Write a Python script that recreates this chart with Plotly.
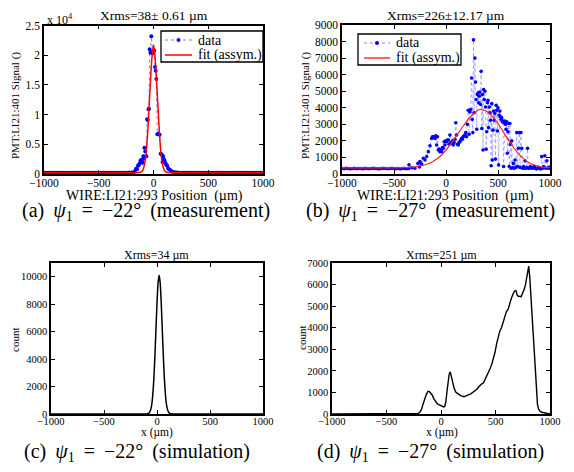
import plotly.graph_objects as go

W, H = 574, 472
FONT = "Liberation Serif"

# ---------------- (a) measurement, psi1 = -22 deg ----------------
a_base_left_x = list(range(-1000, -170, 20))
a_base_left_y = [210, 200, 190, 220, 200, 210, 190, 200, 230, 200, 210, 190, 200, 220, 200, 210,
                 190, 200, 210, 200, 220, 190, 200, 210, 200, 190, 220, 200, 210, 200, 190, 200,
                 210, 220, 200, 190, 210, 200, 230, 250, 260, 300]
a_peak_x = [-170, -160, -150, -142, -135, -126, -118, -110, -105, -99, -93, -88, -83, -75, -65, -58,
            -53, -45, -41, -35, -28, -20, -14, -7, 0, 7, 14, 20, 26, 35, 45, 56, 65, 75, 82, 87,
            95, 102, 110, 117, 125, 132, 140, 150, 163]
a_peak_y = [450, 900, 800, 1400, 1500, 1800, 2300, 2200, 2400, 1900, 3000, 2600, 4400, 3800, 3000,
            9200, 9100, 10900, 11000, 21000, 20400, 23200, 20500, 20300, 20600, 20800, 18000, 17400,
            16000, 6700, 6800, 6600, 3400, 3300, 2000, 3000, 2500, 2200, 1800, 1500, 1400, 1000,
            800, 700, 500]
a_base_right_x = list(range(180, 1001, 20))
a_base_right_y = [350, 280, 250, 230, 210, 200, 220, 190, 200, 210, 200, 190, 210, 200, 220, 200,
                  190, 200, 210, 200, 190, 220, 200, 210, 200, 190, 200, 210, 220, 200, 190, 200,
                  210, 200, 190, 200, 210, 200, 220, 200, 210, 200]
a_data_x = a_base_left_x + a_peak_x + a_base_right_x
a_data_y = a_base_left_y + a_peak_y + a_base_right_y

a_fit_x = [-1000, -500, -250, -200, -150, -120, -100, -90, -80, -70, -60, -50, -40, -30, -20, -10,
           0, 10, 20, 30, 40, 50, 60, 70, 80, 90, 100, 120, 150, 200, 250, 500, 1000]
a_fit_y = [200, 200, 200, 200, 210, 290, 560, 990, 1780, 3100, 5150, 7950, 11400, 14900, 18100,
           20500, 21700, 20600, 18200, 15000, 11600, 8200, 5300, 3200, 1850, 1050, 600, 300, 210,
           200, 200, 200, 200]

# ---------------- (b) measurement, psi1 = -27 deg ----------------
b_base_x = list(range(-1000, -359, 20))
b_base_y = [330, 320, 340, 330, 310, 330, 340, 320, 330, 330, 310, 340, 330, 320, 330, 340, 330,
            320, 310, 330, 340, 330, 320, 330, 340, 330, 320, 330, 310, 330, 340, 320, 330]
b_scan_x = [-356, -330, -300, -270, -255, -250, -234, -218, -202, -186, -170, -154, -138, -130,
            -122, -114, -106, -98, -90, -82, -74, -66, -58, -50, -42, -34, -26, -18, -10, -2, 6,
            14, 22, 30, 38, 46, 54, 62, 70, 78, 86, 94, 102, 110, 118, 126, 134, 142, 150, 158,
            166, 174, 182, 190, 198, 206, 214, 222, 230, 238, 246, 252, 258, 264, 270, 278, 284,
            290, 296, 302, 308, 314, 320, 326, 332, 338, 344, 350, 356, 362, 368, 374, 380, 386,
            392, 398, 404, 410, 416, 422, 428, 434, 440, 446, 452, 458, 464, 470, 476, 482, 488,
            494, 500, 506, 512, 518, 524, 530, 536, 542, 548, 554, 560, 566, 572, 578, 584, 590,
            596, 602, 608, 614, 620, 626, 632, 640, 648, 656, 664, 672, 680, 688, 696, 704, 712,
            720, 728, 736, 744, 752, 760, 768, 776, 784, 792, 800, 810, 820, 830, 840, 850, 860,
            870, 880, 890, 900, 910, 920, 930, 940, 950, 960, 970, 980, 990, 1000]
b_scan_y = [560, 380, 350, 640, 420, 750, 600, 950, 850, 1050, 1350, 1700, 2150, 2250, 2250, 2200,
            2150, 2300, 1750, 2250, 1450, 1500, 1350, 1450, 1350, 1600, 1550, 1950, 1750, 2000,
            1950, 2050, 2050, 1800, 2350, 1900, 1850, 2000, 1750, 1900, 2100, 3100, 2350, 1800,
            1750, 1900, 1950, 2050, 2150, 2100, 2250, 2300, 2350, 2500, 2250, 3000, 3850, 2400,
            3750, 3900, 5800, 3300, 2500, 8100, 3700, 7000, 5550, 4500, 2700, 4800, 4900, 4300,
            4700, 4950, 4200, 6200, 2750, 4800, 1450, 5100, 4500, 5000, 4050, 1500, 2550, 4300,
            4450, 2800, 4050, 3700, 3250, 500, 4250, 850, 2650, 3800, 3250, 3650, 900, 4150, 3850,
            2600, 4000, 550, 3550, 3800, 3450, 3300, 3400, 3150, 3200, 450, 3100, 3200, 3000, 2700,
            3150, 1250, 2550, 3050, 450, 3050, 1800, 350, 2000, 380, 640, 350, 850, 400, 2500, 450,
            1550, 2500, 400, 2500, 1550, 350, 450, 350, 800, 350, 400, 1550, 350, 350, 450, 350,
            400, 350, 450, 350, 300, 350, 400, 350, 300, 1050, 350, 450, 1100, 350, 800, 350, 400,
            350]
b_data_x = b_base_x + b_scan_x
b_data_y = b_base_y + b_scan_y

b_fit_x = [-1000, -800, -600, -400, -350, -300, -250, -200, -150, -100, -50, 0, 50, 100, 150, 200,
           250, 300, 330, 350, 400, 450, 500, 550, 600, 650, 700, 750, 800, 850, 900, 950, 1000]
b_fit_y = [370, 370, 370, 380, 400, 430, 480, 560, 680, 860, 1100, 1450, 1850, 2300, 2750, 3200,
           3550, 3820, 3900, 3880, 3750, 3450, 3050, 2550, 2050, 1600, 1200, 900, 680, 540, 450,
           400, 380]

# ---------------- (c) simulation, psi1 = -22 deg ----------------
c_x = [-1000, -500, -150, -100, -80, -60, -50, -40, -30, -20, -10, 0, 10, 20, 30, 40, 50, 60, 70,
       80, 90, 100, 110, 120, 130, 150, 200, 500, 1000]
c_y = [0, 0, 0, 5, 40, 290, 660, 1370, 2520, 4170, 6130, 8080, 9550, 10100, 9550, 8080, 6130,
       4170, 2520, 1370, 660, 300, 130, 50, 20, 5, 0, 0, 0]

# ---------------- (d) simulation, psi1 = -27 deg ----------------
d_x = [-1000, -600, -300, -230, -210, -195, -180, -165, -150, -135, -120, -110, -100, -90, -80,
       -65, -50, -35, -20, -5, 10, 25, 35, 45, 55, 65, 75, 85, 95, 105, 120, 135, 150, 165, 180,
       195, 210, 225, 240, 255, 270, 285, 300, 315, 330, 345, 360, 375, 390, 405, 420, 435, 450,
       465, 480, 495, 510, 525, 540, 555, 570, 585, 600, 615, 630, 645, 660, 675, 688, 700, 712,
       724, 735, 745, 755, 765, 775, 785, 795, 805, 815, 825, 835, 845, 855, 865, 875, 885, 895,
       910, 925, 940, 960, 980, 1000]
d_y = [0, 0, 0, 0, 20, 80, 200, 450, 700, 900, 1050, 1050, 1000, 950, 870, 700, 560, 480, 430,
       390, 350, 330, 350, 600, 1050, 1500, 1850, 1950, 1750, 1450, 1200, 1020, 950, 880, 850,
       830, 800, 830, 880, 900, 920, 980, 1020, 1080, 1150, 1250, 1350, 1400, 1450, 1600, 1750,
       1950, 2100, 2300, 2550, 2850, 3250, 3550, 3850, 4000, 4250, 4400, 4750, 4850, 5150, 5350,
       5550, 5700, 5720, 5500, 5450, 5460, 5430, 5550, 5650, 5800, 6000, 6300, 6700, 6850, 6300,
       5400, 4600, 3700, 2700, 1700, 900, 450, 230, 120, 80, 60, 40, 20, 0]

titles = ["Xrms=38± 0.61 µm", "Xrms=226±12.17 µm", "Xrms=34 µm", "Xrms=251 µm"]
SP = " \u2009"
captions = [f"(a){SP}<i>ψ</i><sub>1</sub>{SP}={SP}−22°{SP}(measurement)",
            f"(b){SP}<i>ψ</i><sub>1</sub>{SP}={SP}−27°{SP}(measurement)",
            f"(c){SP}<i>ψ</i><sub>1</sub>{SP}={SP}−22°{SP}(simulation)",
            f"(d){SP}<i>ψ</i><sub>1</sub>{SP}={SP}−27°{SP}(simulation)"]
legend_labels = ["data", "fit (assym.)"]
xtick_vals = [-1000, -500, 0, 500, 1000]
a_ytick_vals = [0, 5000, 10000, 15000, 20000, 25000]
a_ytick_text = ["0", "0.5", "1", "1.5", "2", "2.5"]

# ---------------- layout helpers ----------------
def px(x):
    return x / W

def py(y):
    return 1 - y / H

boxes = {  # left, right, top, bottom in pixels
    1: (44, 263, 25.5, 174),
    2: (342, 550, 25, 174),
    3: (51, 263, 263, 414),
    4: (332, 550, 263, 414),
}

fig = go.Figure()

BLUE = "#0000FF"
DOT_BLUE = "rgba(90,90,255,0.75)"
fig.add_trace(go.Scatter(x=a_data_x, y=a_data_y, mode="lines+markers", name=legend_labels[0],
                         line=dict(color=DOT_BLUE, width=1, dash="dot"),
                         marker=dict(color=BLUE, size=4), xaxis="x", yaxis="y", showlegend=False))
fig.add_trace(go.Scatter(x=a_fit_x, y=a_fit_y, mode="lines", name=legend_labels[1],
                         line=dict(color="#FF0000", width=1.5, shape="spline", smoothing=0.6),
                         xaxis="x", yaxis="y", showlegend=False))
fig.add_trace(go.Scatter(x=b_data_x, y=b_data_y, mode="lines+markers", name=legend_labels[0],
                         line=dict(color="rgba(110,110,255,0.55)", width=1, dash="dot"),
                         marker=dict(color=BLUE, size=3.6), xaxis="x2", yaxis="y2", showlegend=False))
fig.add_trace(go.Scatter(x=b_fit_x, y=b_fit_y, mode="lines", name=legend_labels[1],
                         line=dict(color="#FF2020", width=1.2, shape="spline", smoothing=0.8),
                         xaxis="x2", yaxis="y2", showlegend=False))
fig.add_trace(go.Scatter(x=c_x, y=c_y, mode="lines", showlegend=False,
                         line=dict(color="black", width=1.5, shape="spline", smoothing=0.5),
                         xaxis="x3", yaxis="y3"))
fig.add_trace(go.Scatter(x=d_x, y=d_y, mode="lines", showlegend=False,
                         line=dict(color="black", width=1.4),
                         xaxis="x4", yaxis="y4"))

axis_common = dict(showline=True, linecolor="black", linewidth=1.5, mirror="ticks",
                   ticks="inside", ticklen=4, tickcolor="black", tickwidth=1,
                   showgrid=False, zeroline=False, fixedrange=True, automargin=False,
                   tickformat="d")

layout = dict(template="none", width=W, height=H,
              margin=dict(l=0, r=0, t=0, b=0, pad=0, autoexpand=False),
              paper_bgcolor="white", plot_bgcolor="white", showlegend=False,
              font=dict(family=FONT, color="black"))

yranges = {1: [0, 25000], 2: [0, 9000], 3: [0, 11000], 4: [0, 7000]}
for i, (l, r, t, b) in boxes.items():
    sfx = "" if i == 1 else str(i)
    tfs = 11.5 if i <= 2 else 10.5
    xa = dict(axis_common, domain=[px(l), px(r)], anchor="y" + sfx, range=[-1000, 1000],
              tickvals=xtick_vals, tickfont=dict(size=tfs, family=FONT), ticklabelstandoff=-3)
    ya = dict(axis_common, domain=[py(b), py(t)], anchor="x" + sfx, range=yranges[i],
              tickfont=dict(size=tfs, family=FONT))
    if i == 1:
        ya.update(tickvals=a_ytick_vals, ticktext=a_ytick_text)
    elif i == 3:
        ya.update(dtick=2000)
    else:
        ya.update(dtick=1000)
    layout["xaxis" + sfx] = xa
    layout["yaxis" + sfx] = ya

fig.update_layout(**layout)

ann = []
shapes = []

def add_text(x, y, text, size, angle=0, xanchor="center"):
    ann.append(dict(x=px(x), y=py(y), xref="paper", yref="paper", text=text, showarrow=False,
                    font=dict(family=FONT, size=size, color="black"), textangle=angle,
                    xanchor=xanchor, yanchor="middle"))

# titles
add_text(154, 15, titles[0], 13.5)
add_text(446, 15, titles[1], 13.5)
add_text(157, 255, titles[2], 12)
add_text(441, 255, titles[3], 12)
# x labels
add_text(154, 196, "WIRE:LI21:293 Position  (µm)", 14)
add_text(445, 196, "WIRE:LI21:293 Position  (µm)", 14)
add_text(157, 432, "x (µm)", 11.5)
add_text(442, 432, "x (µm)", 11.5)
# y labels
add_text(15, 106, "PMT:LI21:401 Signal ()", 11, angle=-90)
add_text(305, 106, "PMT:LI21:401 Signal ()", 11, angle=-90)
add_text(15, 340, "count", 11, angle=-90)
add_text(302, 338, "count", 11, angle=-90)
# exponent label
add_text(45, 19, "x 10<sup>4</sup>", 12, xanchor="left")
# captions
add_text(146, 211, captions[0], 20)
add_text(430, 211, captions[1], 20)
add_text(137, 452, captions[2], 20)
add_text(430, 452, captions[3], 20)

# legends (box, samples, labels)
def add_legend(l, r, t, b, x0, x1, y_data, y_fit, fit_color, fit_width):
    shapes.append(dict(type="rect", xref="paper", yref="paper", x0=px(l), x1=px(r), y0=py(b), y1=py(t),
                       line=dict(color="black", width=1.3), fillcolor="white", layer="above"))
    shapes.append(dict(type="line", xref="paper", yref="paper", x0=px(x0), x1=px(x1), y0=py(y_data),
                       y1=py(y_data), line=dict(color=DOT_BLUE, width=1, dash="dot"), layer="above"))
    xm = (x0 + x1) / 2
    shapes.append(dict(type="circle", xref="paper", yref="paper", x0=px(xm - 2), x1=px(xm + 2),
                       y0=py(y_data + 2), y1=py(y_data - 2), fillcolor=BLUE,
                       line=dict(color=BLUE, width=0), layer="above"))
    shapes.append(dict(type="line", xref="paper", yref="paper", x0=px(x0), x1=px(x1), y0=py(y_fit),
                       y1=py(y_fit), line=dict(color=fit_color, width=fit_width), layer="above"))
    add_text(x1 + 4, y_data, legend_labels[0], 14, xanchor="left")
    add_text(x1 + 4, y_fit, legend_labels[1], 14, xanchor="left")

add_legend(161, 263, 31, 62, 165, 192, 40, 55, "#FF0000", 1.5)
add_legend(358, 461, 34, 65, 364, 390, 43, 58, "#FF3030", 1.5)

fig.update_layout(annotations=ann, shapes=shapes)
fig.write_html("out.html", config={"displayModeBar": False},
               post_script="document.body.style.margin='0';document.body.style.padding='0';")
